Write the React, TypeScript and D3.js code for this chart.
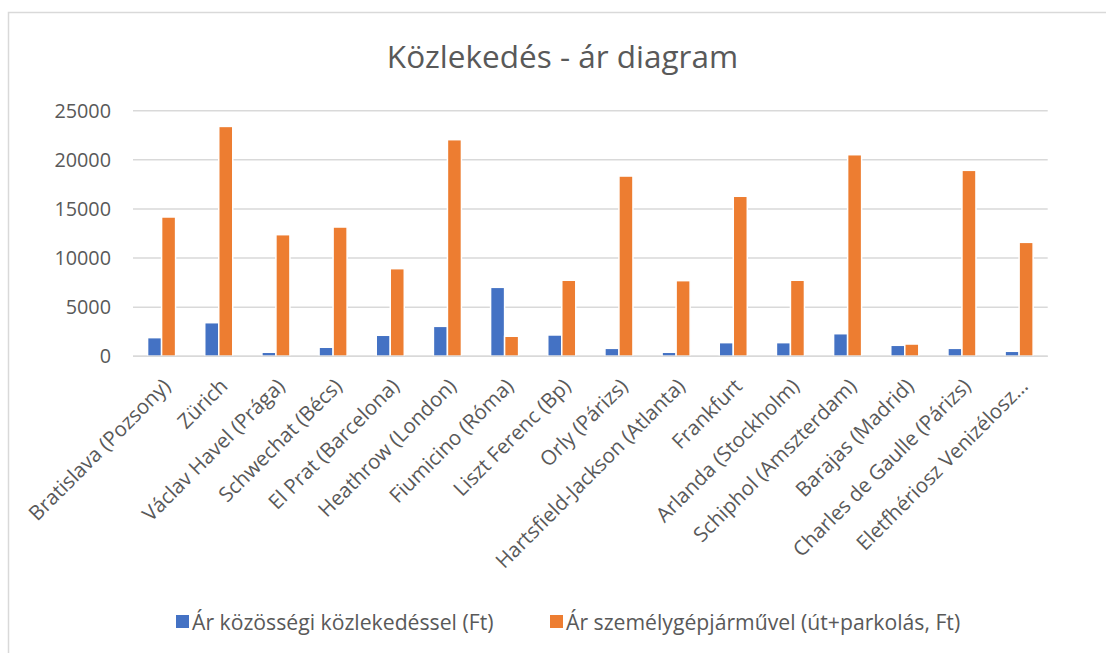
import React from "react";
import * as d3 from "d3";

const categories = [
  "Bratislava (Pozsony)",
  "Zürich",
  "Václav Havel (Prága)",
  "Schwechat (Bécs)",
  "El Prat (Barcelona)",
  "Heathrow (London)",
  "Fiumicino (Róma)",
  "Liszt Ferenc (Bp)",
  "Orly (Párizs)",
  "Hartsfield-Jackson (Atlanta)",
  "Frankfurt",
  "Arlanda (Stockholm)",
  "Schiphol (Amszterdam)",
  "Barajas (Madrid)",
  "Charles de Gaulle (Párizs)",
  "Eletfhériosz Venizélosz…",
];
const publicTransport = [1900, 3420, 410, 920, 2140, 3050, 7020, 2170, 810, 410, 1390, 1390, 2300, 1120, 810, 510];
const carTransport = [14180, 23400, 12380, 13160, 8920, 22050, 2040, 7740, 18350, 7700, 16290, 7740, 20520, 1250, 18930, 11600];
const seriesNames = ["Ár közösségi közlekedéssel (Ft)", "Ár személygépjárművel (út+parkolás, Ft)"];
const yTicks = [0, 5000, 10000, 15000, 20000, 25000];
const title = "Közlekedés - ár diagram";

const colors = ["#4472C4", "#ED7D31"];
const textColor = "#595959";
const gridColor = "#d9d9d9";
const font = "'Open Sans', sans-serif";

export default function App() {
  const W = 1106, H = 653;
  const left = 133, right = 1047.7, top = 110.7, bottom = 356.3;
  const y = d3.scaleLinear().domain([0, 25000]).range([bottom, top]);
  const x = d3.scaleBand<string>().domain(categories).range([left, right]).padding(0);
  const bw = x.bandwidth();
  const groupW = bw / 2.04;
  const x1 = d3.scaleBand<number>().domain([0, 1]).range([0, groupW]).padding(0);
  const series = [publicTransport, carTransport];

  return (
    <svg width={W} height={H} style={{ position: "absolute", left: 0, top: 0, background: "#fff" }}>
      <rect x={8.5} y={12.5} width={1200} height={700} fill="#fff" stroke={gridColor} strokeWidth={1.5} />
      <text x={562.5} y={68} textAnchor="middle" fontFamily={font} fontSize={31.5} fill={textColor}>
        {title}
      </text>
      {yTicks.map((t) => (
        <g key={t}>
          <line x1={left} x2={right} y1={y(t)} y2={y(t)} stroke={gridColor} strokeWidth={1.4} />
          <text x={111} y={y(t)} dy="0.36em" textAnchor="end" fontFamily={font} fontSize={19.8} fill={textColor}>
            {t}
          </text>
        </g>
      ))}
      {categories.map((c, i) => {
        const gx = (x(c) as number) + (bw - groupW) / 2;
        return (
          <g key={c}>
            {series.map((s, k) => (
              <rect
                key={k}
                x={gx + (x1(k) as number)}
                y={y(s[i])}
                width={x1.bandwidth()}
                height={bottom - y(s[i])}
                fill={colors[k]}
                stroke="#fff"
                strokeWidth={1.5}
              />
            ))}
          </g>
        );
      })}
      <line x1={left} x2={right} y1={bottom} y2={bottom} stroke={gridColor} strokeWidth={1.5} />
      {categories.map((c) => {
        const cx = (x(c) as number) + bw / 2;
        return (
          <text
            key={c}
            transform={`translate(${cx},${bottom + 21}) rotate(-45)`}
            textAnchor="end"
            dy="0.7em"
            fontFamily={font}
            fontSize={20.5}
            fill={textColor}
          >
            {c}
          </text>
        );
      })}
      {seriesNames.map((n, k) => {
        const lx = k === 0 ? 176 : 550;
        return (
          <g key={n}>
            <rect x={lx} y={615} width={13} height={13} fill={colors[k]} />
            <text x={lx + 16} y={622} dy="0.36em" fontFamily={font} fontSize={21.2} fill={textColor}>
              {n}
            </text>
          </g>
        );
      })}
    </svg>
  );
}
